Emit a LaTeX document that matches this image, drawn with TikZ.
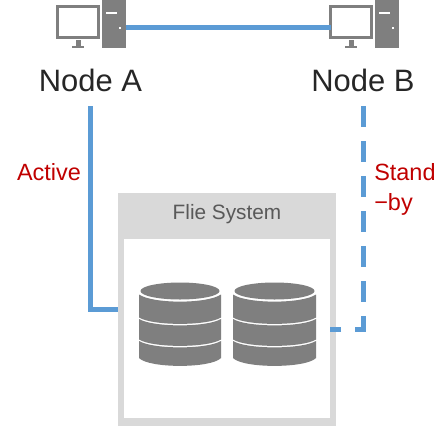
\documentclass[tikz,border=0pt]{standalone}
\usepackage{fontspec}
\setmainfont{Liberation Sans}
\definecolor{iconGray}{HTML}{7F7F7F}
\definecolor{boxGray}{HTML}{D9D9D9}
\definecolor{linkBlue}{HTML}{5B9BD5}
\definecolor{labelRed}{HTML}{C00000}
\definecolor{textDark}{HTML}{262626}
\tikzset{
  x=0.75pt,y=-0.75pt,
  link/.style={draw=linkBlue,line width=3.75pt},
  tower/.style={fill=iconGray,draw=none,inner sep=0pt,minimum width=18pt,minimum height=36pt},
  screen/.style={draw=iconGray,fill=white,line width=2pt,inner sep=0pt,minimum width=31pt,minimum height=23.5pt},
  nodelabel/.style={font=\fontsize{23.2}{26}\selectfont,text=textDark,inner sep=0pt,minimum height=24pt},
  redlabel/.style={font=\fontsize{17.6}{22.5}\selectfont,text=labelRed,inner sep=0pt},
}
\newcommand{\computer}[2]{% x offset, name
  \node[screen] (#2screen) at (#1+78,22) {};
  \fill[iconGray] (#1+75.5,40) rectangle (#1+80.5,46);
  \fill[iconGray] (#1+71.5,45.5) rectangle (#1+84,48);
  \node[tower] (#2tower) at (#1+114,24) {};
  \fill[white] (#1+106,12) rectangle (#1+117,14);
  \fill[white] (#1+119,27) rectangle (#1+121,29);
}
\newcommand{\database}[3]{% left, right, name
  \coordinate (#3) at ({(#1+#2)/2},325);
  \fill[iconGray] (#1,294.5) .. controls (#1+14,304) and (#2-14,304) .. (#2,294.5) -- (#2,317.5)
     .. controls (#2-14,326) and (#1+14,326) .. (#1,317.5) -- cycle;
  \fill[iconGray] (#1,319) .. controls (#1+14,327.5) and (#2-14,327.5) .. (#2,319) -- (#2,339.5)
     .. controls (#2-14,348) and (#1+14,348) .. (#1,339.5) -- cycle;
  \fill[iconGray] (#1,341) .. controls (#1+14,349.5) and (#2-14,349.5) .. (#2,341) -- (#2,358)
     .. controls (#2-10,368.5) and (#1+10,368.5) .. (#1,358) -- cycle;
  \fill[iconGray] ({(#1+#2)/2},291) ellipse [x radius={(#2-#1)/2-1.5},y radius=8.5];
}
\begin{document}
\begin{tikzpicture}
\useasboundingbox (0,0) rectangle (447,426);
\node[fill=boxGray,inner sep=0pt,minimum width=163.5pt,minimum height=174.75pt] (fsbox) at (227,309.5) {};
\node[fill=white,inner sep=0pt,minimum width=154.5pt,minimum height=134.25pt] (fsinner) at (227,328.5) {};
\node[font=\fontsize{15.6}{18}\selectfont,text=black!65,inner sep=0pt] (fstitle) at (227,214) {Flie System};
\database{139}{221}{dbA}
\database{233}{316}{dbB}
\computer{0}{a}
\computer{273}{b}
\node[nodelabel] (nodeA) at (90.5,80) {Node A};
\node[nodelabel] (nodeB) at (363,80) {Node B};
\node[redlabel] (active) at (49,172) {Active};
\node[redlabel,align=left,anchor=west] (standby) at (374,189.5) {Stand\\−by};
\coordinate (topA) at (126,27);
\coordinate (topB) at (331,27);
\coordinate (activeStart) at (90.5,106);
\coordinate (standbyStart) at (363,106);
\coordinate (dashEnd) at (330,329);
\draw[link] (topA) -- (topB);
\draw[link] (activeStart) |- (fsbox.west);
\draw[link,dash pattern=on 15.4pt off 10.85pt] (standbyStart) |- (dashEnd);
\end{tikzpicture}
\end{document}
